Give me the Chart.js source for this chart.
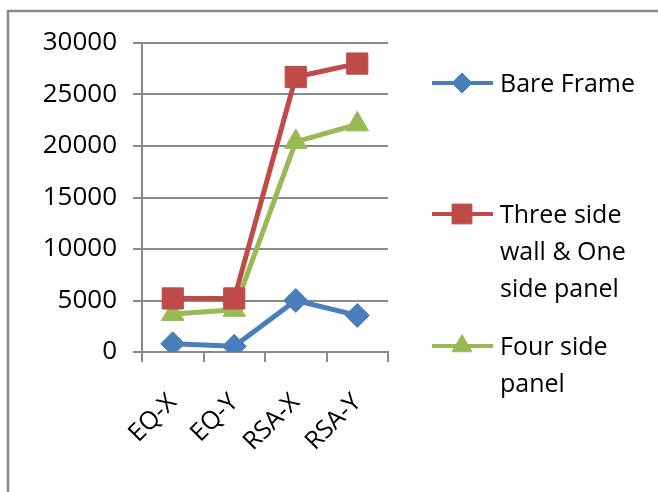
<!DOCTYPE html>
<html>
<head>
<meta charset="utf-8">
<style>
  html, body { margin: 0; padding: 0; background: #fff; }
  #wrap { width: 658px; height: 492px; }
</style>
<script src="https://cdn.jsdelivr.net/npm/chart.js@4.4.1/dist/chart.umd.min.js"></script>
</head>
<body>
<div id="wrap"><canvas id="chart" width="658" height="492"></canvas></div>
<script>
const categories = ["EQ-X", "EQ-Y", "RSA-X", "RSA-Y"];
const bareFrame = [800, 550, 5000, 3550];
const threeSideWall = [5200, 5200, 26700, 28000];
const fourSidePanel = [3700, 4100, 20400, 22100];
const yTicks = [0, 5000, 10000, 15000, 20000, 25000, 30000];

const legendLabels = [
  ["Bare Frame"],
  ["Three side", "wall & One", "side panel"],
  ["Four side", "panel"],
];

const FONT = "'Open Sans', sans-serif";
const GRID = "#8a8a8a";

// outer frame: only the top and left edges are visible
const framePlugin = {
  id: "frame",
  beforeDraw(chart) {
    const ctx = chart.ctx;
    ctx.save();
    ctx.strokeStyle = GRID;
    ctx.lineWidth = 2.5;
    ctx.beginPath();
    ctx.moveTo(8, 700);
    ctx.lineTo(8, 11);
    ctx.lineTo(700, 11);
    ctx.stroke();
    ctx.restore();
  },
};

// legend on the right, with wrapped labels
const sideLegend = {
  id: "sideLegend",
  afterDraw(chart) {
    const ctx = chart.ctx;
    const rows = [83, 214, 346];
    const markerSize = [10, 14, 11.5];
    ctx.save();
    chart.data.datasets.forEach((ds, i) => {
      const y = rows[i];
      ctx.strokeStyle = ds.borderColor;
      ctx.lineWidth = 4;
      ctx.beginPath();
      ctx.moveTo(432, y);
      ctx.lineTo(493, y);
      ctx.stroke();
      ctx.fillStyle = ds.pointBackgroundColor;
      ctx.strokeStyle = ds.pointBorderColor;
      ctx.lineWidth = 1;
      Chart.helpers.drawPoint(ctx, {
        pointStyle: ds.pointStyle,
        radius: markerSize[i],
        rotation: 0,
        borderWidth: 1,
      }, 462, y);
      ctx.fillStyle = "#000";
      ctx.font = "25px " + FONT;
      ctx.textBaseline = "middle";
      ctx.textAlign = "left";
      legendLabels[i].forEach((line, k) => {
        ctx.fillText(line, 500, y + 2 + k * 37);
      });
    });
    ctx.restore();
  },
};

const series = [
  { label: "Bare Frame", data: bareFrame, color: "#4a7ebb", style: "rectRot", r: 12 },
  { label: "Three side wall & One side panel", data: threeSideWall, color: "#be4b48", style: "rect", r: 15 },
  { label: "Four side panel", data: fourSidePanel, color: "#98b954", style: "triangle", r: 13 },
];

new Chart(document.getElementById("chart"), {
  type: "line",
  data: {
    labels: categories,
    datasets: series.map((s) => ({
      label: s.label,
      data: s.data,
      borderColor: s.color,
      backgroundColor: s.color,
      pointBackgroundColor: s.color,
      pointBorderColor: s.color,
      pointStyle: s.style,
      pointRadius: s.r,
      pointBorderWidth: 1,
      borderWidth: 5,
      tension: 0,
    })),
  },
  options: {
    responsive: false,
    animation: false,
    layout: { padding: { left: 0, top: 43, right: 270, bottom: 0 } },
    plugins: {
      legend: { display: false },
      tooltip: { enabled: false },
    },
    scales: {
      x: {
        offset: true,
        grid: {
          offset: true,
          drawOnChartArea: false,
          drawTicks: true,
          tickLength: 10,
          color: GRID,
          lineWidth: 2,
        },
        border: { color: GRID, width: 2 },
        ticks: {
          color: "#000",
          font: { family: FONT, size: 25 },
          minRotation: 45,
          maxRotation: 45,
          padding: 26,
        },
        afterFit: (scale) => { scale.height = 140; },
      },
      y: {
        min: 0,
        max: 30000,
        afterBuildTicks: (scale) => {
          scale.ticks = yTicks.map((v) => ({ value: v }));
        },
        grid: {
          color: GRID,
          lineWidth: 2,
          drawTicks: true,
          tickLength: 9,
        },
        border: { color: GRID, width: 2 },
        ticks: {
          color: "#000",
          font: { family: FONT, size: 26 },
          padding: 16,
          callback: (v) => String(v),
        },
        afterFit: (scale) => { scale.width = 142; },
      },
    },
  },
  plugins: [framePlugin, sideLegend],
});
</script>
</body>
</html>
